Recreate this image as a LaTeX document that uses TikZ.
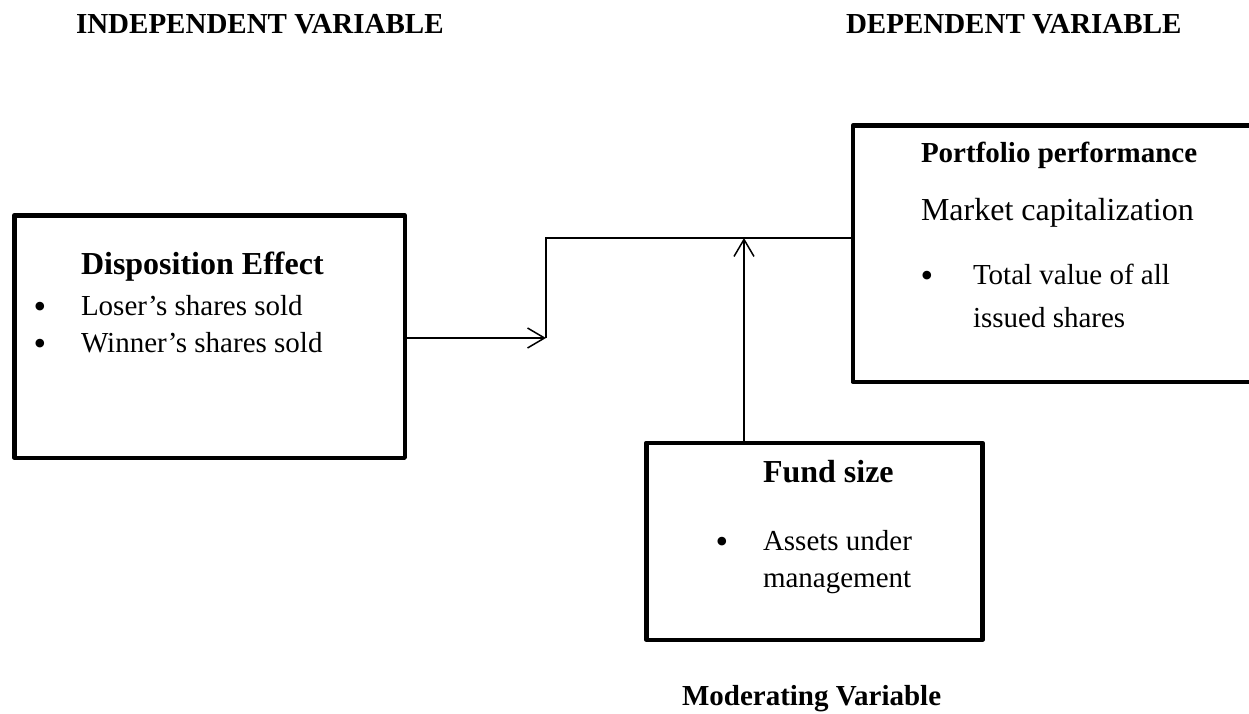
\documentclass[tikz,border=0pt]{standalone}
\usepackage{fontspec}
\setmainfont{Liberation Serif}
\usetikzlibrary{arrows.meta}
\newcommand\fsbody{\fontsize{29bp}{36bp}\selectfont}
\newcommand\fsbig{\fontsize{32bp}{38bp}\selectfont}
\newcommand\fsbul{\fontsize{36bp}{40bp}\selectfont}
\tikzset{
  box/.style={draw, line width=4.5bp, line join=round, rectangle, inner sep=0, anchor=north west},
  txt/.style={inner sep=0, outer sep=0, anchor=base west, font=\fsbody},
  bigtxt/.style={inner sep=0, outer sep=0, anchor=base west, font=\fsbig},
  bhead/.style={inner sep=0, outer sep=0, anchor=base west, font=\fsbig\bfseries},
  shead/.style={inner sep=0, outer sep=0, anchor=base west, font=\fsbody\bfseries},
  bul/.style={inner sep=0, outer sep=0, anchor=base, font=\fsbul},
  conn/.style={line width=1.5bp},
  tip/.style={-{Straight Barb[length=17bp,width=20bp,line width=1.5bp]}}
}
\begin{document}
\begin{tikzpicture}[x=1bp,y=-1bp]
\clip (0,0) rectangle (1249,714);
\fill[white] (0,0) rectangle (1249,714);
% headers
\node[shead] (hdrI) at (76,34) {INDEPENDENT VARIABLE};
\node[shead] (hdrD) at (846,34) {DEPENDENT VARIABLE};
% boxes
\node[box, minimum width=390.5bp, minimum height=242.5bp] (dis) at (12,213) {};
\node[box, minimum width=420bp, minimum height=256bp] (pp) at (850.5,123.5) {};
\node[box, minimum width=336bp, minimum height=197bp] (fs) at (644,440.5) {};
% left box text
\node[bhead] (disT) at (81,274) {Disposition Effect};
\node[bul] (disB1) at (40,318) {•};
\node[txt] (disL1) at (81,315) {Loser’s shares sold};
\node[bul] (disB2) at (40,355) {•};
\node[txt] (disL2) at (81,352) {Winner’s shares sold};
% right box text
\node[shead] (ppT) at (921,163) {Portfolio performance};
\node[bigtxt] (ppM) at (921,221) {Market capitalization};
\node[bul] (ppB) at (927,287) {•};
\node[txt] (ppL1) at (973,284) {Total value of all};
\node[txt] (ppL2) at (973,327) {issued shares};
% bottom box text
\node[bhead] (fsT) at (763,482) {Fund size};
\node[bul] (fsB) at (722,553) {•};
\node[txt] (fsL1) at (763,550) {Assets under};
\node[txt] (fsL2) at (763,587) {management};
\node[shead] (mod) at (682,705) {Moderating Variable};
% connectors
\coordinate (j) at (546,338);
\coordinate (k) at (546,238);
\coordinate (m) at (744,238);
\draw[conn, tip] (dis.east |- j) -- (j);
\draw[conn] (j) -- (k) -- (k -| pp.west);
\draw[conn, tip] (m |- fs.north) -- (m);
\end{tikzpicture}
\end{document}
